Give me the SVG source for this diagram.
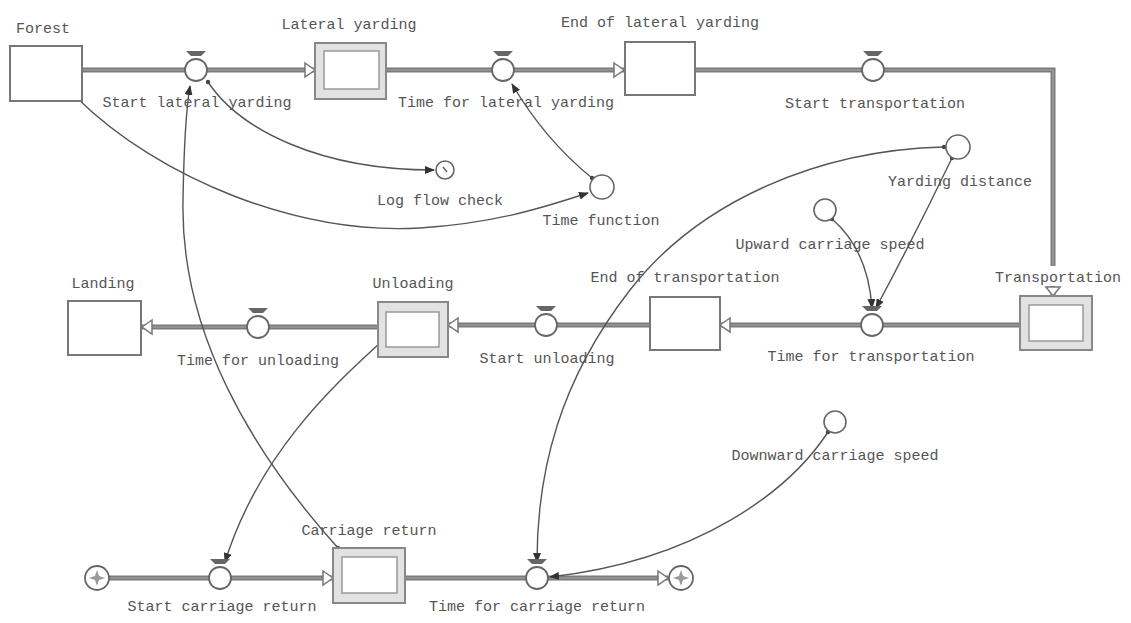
<svg xmlns="http://www.w3.org/2000/svg" width="1131" height="623" viewBox="0 0 1131 623">
<style>
.lbl{font-family:"Liberation Mono","DejaVu Sans Mono",monospace;font-size:15px;fill:#555;text-anchor:middle}
.stock{fill:#fff;stroke:#777;stroke-width:2}
.outer{fill:#e2e2e2;stroke:#888;stroke-width:2}
.inner{fill:#fff;stroke:#999;stroke-width:1.5}
.pipe{fill:none;stroke:#7a7a7a;stroke-width:5}
.pipec{fill:none;stroke:#a8a8a8;stroke-width:1.2}
.valve{fill:#fff;stroke:#666;stroke-width:1.8}
.handle{fill:#666}
.flowhead{fill:#fff;stroke:#777;stroke-width:1.5}
.aux{fill:#fff;stroke:#666;stroke-width:1.6}
.conn{fill:none;stroke:#555;stroke-width:1.4;marker-end:url(#ah);marker-start:url(#dot)}
</style>
<defs>
<marker id="ah" markerWidth="10" markerHeight="8" refX="9" refY="4" orient="auto" markerUnits="userSpaceOnUse">
<path d="M0,0 L10,4 L0,8 Z" fill="#333"/>
</marker>
<marker id="dot" markerWidth="6" markerHeight="6" refX="3" refY="3" markerUnits="userSpaceOnUse">
<circle cx="3" cy="3" r="2.2" fill="#444"/>
</marker>
</defs>
<rect width="1131" height="623" fill="#fff"/>

<g id="pipes">
<path class="pipe" d="M82,70 H315 M386,70 H624 M695,70 H1053 V266 M1053,286 V295 M1020,325 H720 M650,325 H448 M378,327 H142 M109,578 H333 M405,578 H668"/>
<path class="pipec" d="M82,70 H315 M386,70 H624 M695,70 H1053 V266 M1020,325 H720 M650,325 H448 M378,327 H142 M109,578 H333 M405,578 H668"/>
<path class="flowhead" d="M305,63 L315,70 L305,77 Z"/>
<path class="flowhead" d="M614,63 L624,70 L614,77 Z"/>
<path class="flowhead" d="M1046,287 L1053,296 L1060,287 Z"/>
<path class="flowhead" d="M730,318 L720,325 L730,332 Z"/>
<path class="flowhead" d="M458,318 L448,325 L458,332 Z"/>
<path class="flowhead" d="M152,320 L142,327 L152,334 Z"/>
<path class="flowhead" d="M323,571 L333,578 L323,585 Z"/>
<path class="flowhead" d="M658,571 L668,578 L658,585 Z"/>
</g>

<g id="connectors">
<path class="conn" d="M76,97 C160,180 300,235 420,228 C500,223 550,205 588,193"/>
<path class="conn" d="M592,178 Q545,140 512,84"/>
<path class="conn" d="M208,82 C240,130 320,170 434,170"/>
<path class="conn" d="M338,548 C250,450 180,330 183,200 C184,140 186,110 190,86"/>
<path class="conn" d="M380,343 C340,380 260,450 225,562"/>
<path class="conn" d="M944,147 C820,150 700,200 630,290 C560,380 537,470 537,562"/>
<path class="conn" d="M952,158 Q915,235 876,308"/>
<path class="conn" d="M832,219 Q868,250 872,308"/>
<path class="conn" d="M828,432 C790,490 700,560 550,577"/>
</g>

<g id="forest"><rect class="stock" x="10" y="46" width="72" height="55"/><text class="lbl" x="43" y="33">Forest</text></g>
<g id="lateral-yarding"><rect class="outer" x="315" y="43" width="71" height="56"/><rect class="inner" x="324" y="51" width="55" height="38"/><text class="lbl" x="349" y="29">Lateral yarding</text></g>
<g id="end-of-lateral-yarding"><rect class="stock" x="625" y="42" width="70" height="53"/><text class="lbl" x="660" y="27">End of lateral yarding</text></g>
<g id="transportation"><rect class="outer" x="1020" y="296" width="72" height="54"/><rect class="inner" x="1029" y="305" width="54" height="36"/><text class="lbl" x="1058" y="282">Transportation</text></g>
<g id="end-of-transportation"><rect class="stock" x="650" y="297" width="70" height="53"/><text class="lbl" x="685" y="282">End of transportation</text></g>
<g id="unloading"><rect class="outer" x="378" y="302" width="70" height="55"/><rect class="inner" x="386" y="312" width="53" height="35"/><text class="lbl" x="413" y="288">Unloading</text></g>
<g id="landing"><rect class="stock" x="68" y="301" width="73" height="54"/><text class="lbl" x="103" y="288">Landing</text></g>
<g id="carriage-return"><rect class="outer" x="333" y="548" width="72" height="55"/><rect class="inner" x="342" y="557" width="55" height="36"/><text class="lbl" x="369" y="535">Carriage return</text></g>

<g id="start-lateral-yarding"><path class="handle" d="M186,51 H206 L201,56 H191 Z"/><circle class="valve" cx="196" cy="70" r="11"/><text class="lbl" x="197" y="107">Start lateral yarding</text></g>
<g id="time-for-lateral-yarding"><path class="handle" d="M493,51 H513 L508,56 H498 Z"/><circle class="valve" cx="503" cy="70" r="11"/><text class="lbl" x="506" y="107">Time for lateral yarding</text></g>
<g id="start-transportation"><path class="handle" d="M863,51 H883 L878,56 H868 Z"/><circle class="valve" cx="873" cy="70" r="11"/><text class="lbl" x="875" y="108">Start transportation</text></g>
<g id="time-for-transportation"><path class="handle" d="M862,306 H882 L877,311 H867 Z"/><circle class="valve" cx="872" cy="325" r="11"/><text class="lbl" x="871" y="361">Time for transportation</text></g>
<g id="start-unloading"><path class="handle" d="M536,306 H556 L551,311 H541 Z"/><circle class="valve" cx="546" cy="325" r="11"/><text class="lbl" x="547" y="363">Start unloading</text></g>
<g id="time-for-unloading"><path class="handle" d="M248,308 H268 L263,313 H253 Z"/><circle class="valve" cx="258" cy="327" r="11"/><text class="lbl" x="258" y="365">Time for unloading</text></g>
<g id="start-carriage-return"><path class="handle" d="M210,559 H230 L225,564 H215 Z"/><circle class="valve" cx="220" cy="578" r="11"/><text class="lbl" x="222" y="611">Start carriage return</text></g>
<g id="time-for-carriage-return"><path class="handle" d="M527,559 H547 L542,564 H532 Z"/><circle class="valve" cx="537" cy="578" r="11"/><text class="lbl" x="537" y="611">Time for carriage return</text></g>

<g id="log-flow-check"><circle class="aux" cx="445" cy="170" r="9"/><path d="M443,167 L447,172" stroke="#666" stroke-width="1.5"/><text class="lbl" x="440" y="205">Log flow check</text></g>
<g id="time-function"><circle class="aux" cx="602" cy="187" r="12"/><text class="lbl" x="601" y="225">Time function</text></g>
<g id="yarding-distance"><circle class="aux" cx="958" cy="147" r="12"/><text class="lbl" x="960" y="186">Yarding distance</text></g>
<g id="upward-carriage-speed"><circle class="aux" cx="825" cy="210" r="11"/><text class="lbl" x="830" y="249">Upward carriage speed</text></g>
<g id="downward-carriage-speed"><circle class="aux" cx="835" cy="422" r="11"/><text class="lbl" x="835" y="460">Downward carriage speed</text></g>

<g id="source-cloud"><circle cx="97" cy="578" r="12" fill="#fff" stroke="#666" stroke-width="1.8"/><path d="M97,570 L99,576 L105,578 L99,580 L97,586 L95,580 L89,578 L95,576 Z" fill="#999"/></g>
<g id="sink-cloud"><circle cx="681" cy="578" r="12" fill="#fff" stroke="#666" stroke-width="1.8"/><path d="M681,570 L683,576 L689,578 L683,580 L681,586 L679,580 L673,578 L679,576 Z" fill="#999"/></g>
</svg>
